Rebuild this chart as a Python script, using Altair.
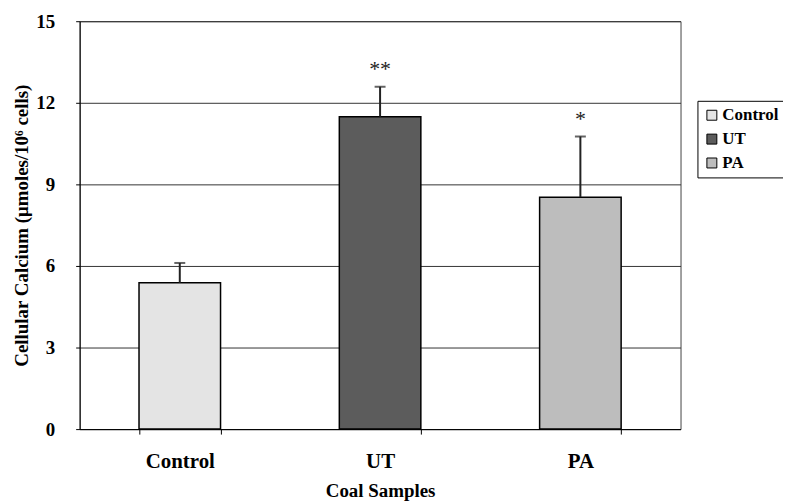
import altair as alt
import pandas as pd

categories = ["Control", "UT", "PA"]
means = [5.38, 11.49, 8.53]
upper = [6.11, 12.59, 10.76]
stars = ["", "**", "*"]
fills = ["#e4e4e4", "#5c5c5c", "#bdbdbd"]
y_ticks = [0, 3, 6, 9, 12, 15]

df = pd.DataFrame({"sample": categories, "mean": means, "upper": upper, "star": stars})

FONT = "Liberation Serif"

x = alt.X(
    "sample:N",
    sort=categories,
    title="Coal Samples",
    scale=alt.Scale(paddingInner=0.593, paddingOuter=0.2965),
    axis=alt.Axis(
        labelAngle=0, tickBand="extent", labelFont=FONT, labelFontSize=21,
        labelFontWeight="bold", labelColor="black", labelPadding=17,
        titleFont=FONT, titleFontSize=19, titleFontWeight="bold", titleColor="black",
        titlePadding=10, domainColor="black", tickColor="black", tickSize=5, grid=False,
    ),
)

base = alt.Chart(df)

bars = base.mark_bar(stroke="black", strokeWidth=1.5).encode(
    x=x,
    y=alt.Y(
        "mean:Q",
        title="Cellular Calcium (μmoles/10⁶ cells)",
        scale=alt.Scale(domain=[0, 15], nice=False),
        axis=alt.Axis(
            values=y_ticks, labelFont=FONT, labelFontSize=19, labelFontWeight="bold",
            labelColor="black", labelPadding=21, tickSize=4, tickColor="black",
            titleFont=FONT, titleFontSize=19, titleFontWeight="bold", titleColor="black",
            titlePadding=4, domainColor="black", gridColor="#333333", gridWidth=1,
        ),
    ),
    fill=alt.Fill(
        "sample:N", sort=categories,
        scale=alt.Scale(domain=categories, range=fills),
        legend=alt.Legend(
            title=None, orient="none", legendX=621, legendY=80,
            symbolType="square", symbolSize=100, symbolStrokeColor="black",
            symbolStrokeWidth=1, labelFont=FONT, labelFontSize=17,
            labelFontWeight="bold", labelColor="black", rowPadding=6,
            strokeColor="black", padding=6, labelOffset=2,
        ),
    ),
)

err = base.mark_rule(color="#222222", strokeWidth=2).encode(
    x=alt.X("sample:N", sort=categories), y="mean:Q", y2="upper:Q"
)
cap = base.mark_tick(color="#222222", size=11, thickness=2).encode(
    x=alt.X("sample:N", sort=categories), y="upper:Q"
)
txt = base.mark_text(dy=-18, fontSize=22, font=FONT, color="#222222").encode(
    x=alt.X("sample:N", sort=categories), y="upper:Q", text="star:N"
)

chart = (
    alt.layer(bars, err, cap, txt)
    .properties(
        width=604, height=410,
        autosize=alt.AutoSizeParams(type="none"),
        padding={"left": 72, "top": 12, "right": 103, "bottom": 76},
        background="white",
    )
    .configure_view(stroke="#444444", strokeWidth=1)
)

chart.save("out.html", embed_options={"renderer": "svg", "actions": False})
